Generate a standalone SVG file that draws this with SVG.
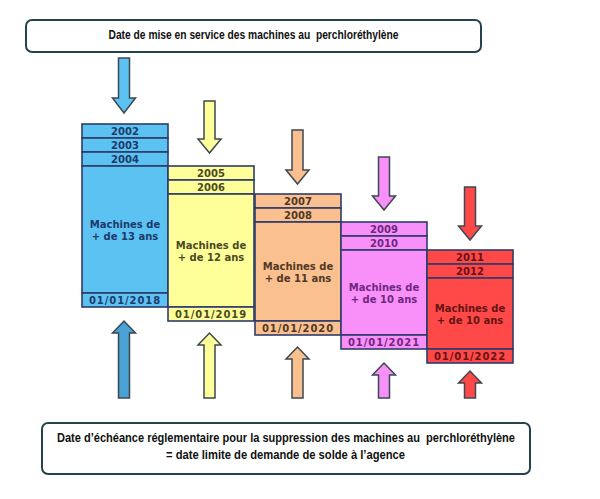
<svg xmlns="http://www.w3.org/2000/svg" width="600" height="499" viewBox="0 0 600 499">
<style>
.box{fill:#fff;stroke:#24434f;stroke-width:2}
.bt{font-family:"Liberation Sans",Arial,sans-serif;font-weight:bold;font-size:12.5px;fill:#111;text-anchor:middle;white-space:pre}
.cell{stroke:#2e3b6b;stroke-width:1.6}
.ct{font-family:"DejaVu Sans",Verdana,sans-serif;font-weight:bold;font-size:10px;text-anchor:middle}
.dt{letter-spacing:0.9px}
.arr{stroke:#3d4852;stroke-width:1.5;stroke-linejoin:miter}
.blue{fill:#5cc2f2}.yellow{fill:#ffff99}.orange{fill:#fac08f}.pink{fill:#f98ff9}.red{fill:#ff4848}
.tb{fill:#1c3a6a}.ty{fill:#4a4a24}.to{fill:#4f3826}.tp{fill:#6e2880}.tr{fill:#661414}
</style>
<rect width="600" height="499" fill="#fff"/>
<g id="top-box">
<rect class="box" x="26" y="20" width="455" height="32" rx="6"/>
<text class="bt" x="253.5" y="38.5" textLength="290" lengthAdjust="spacingAndGlyphs">Date de mise en service des machines au  perchloréthylène</text>
</g>
<g id="bottom-box">
<rect class="box" x="42" y="423" width="488" height="51" rx="6"/>
<text class="bt" x="286" y="442" textLength="458" lengthAdjust="spacingAndGlyphs">Date d’échéance réglementaire pour la suppression des machines au  perchloréthylène</text>
<text class="bt" x="285.5" y="459" textLength="239" lengthAdjust="spacingAndGlyphs">= date limite de demande de solde à l’agence</text>
</g>
<g id="col-2018">
<rect class="cell blue" x="82" y="124" width="86" height="14"/>
<rect class="cell blue" x="82" y="138" width="86" height="14"/>
<rect class="cell blue" x="82" y="152" width="86" height="14"/>
<rect class="cell blue" x="82" y="166" width="86" height="127"/>
<rect class="cell blue" x="82" y="293" width="86" height="14"/>
<text class="ct tb" x="125" y="135">2002</text>
<text class="ct tb" x="125" y="149">2003</text>
<text class="ct tb" x="125" y="163">2004</text>
<text class="ct tb" x="125" y="227.5">Machines de</text>
<text class="ct tb" x="125" y="239.5">+ de 13 ans</text>
<text class="ct tb dt" x="125" y="304">01/01/2018</text>
</g>
<g id="col-2019">
<rect class="cell yellow" x="168" y="166" width="86" height="14"/>
<rect class="cell yellow" x="168" y="180" width="86" height="14"/>
<rect class="cell yellow" x="168" y="194" width="86" height="113"/>
<rect class="cell yellow" x="168" y="307" width="86" height="14"/>
<text class="ct ty" x="211" y="177">2005</text>
<text class="ct ty" x="211" y="191">2006</text>
<text class="ct ty" x="211" y="248.5">Machines de</text>
<text class="ct ty" x="211" y="260.5">+ de 12 ans</text>
<text class="ct ty dt" x="211" y="318">01/01/2019</text>
</g>
<g id="col-2020">
<rect class="cell orange" x="255" y="194" width="86" height="14"/>
<rect class="cell orange" x="255" y="208" width="86" height="14"/>
<rect class="cell orange" x="255" y="222" width="86" height="99"/>
<rect class="cell orange" x="255" y="321" width="86" height="14"/>
<text class="ct to" x="298" y="205">2007</text>
<text class="ct to" x="298" y="219">2008</text>
<text class="ct to" x="298" y="269.5">Machines de</text>
<text class="ct to" x="298" y="281.5">+ de 11 ans</text>
<text class="ct to dt" x="298" y="332">01/01/2020</text>
</g>
<g id="col-2021">
<rect class="cell pink" x="341" y="222" width="86" height="14"/>
<rect class="cell pink" x="341" y="236" width="86" height="14"/>
<rect class="cell pink" x="341" y="250" width="86" height="85"/>
<rect class="cell pink" x="341" y="335" width="86" height="14"/>
<text class="ct tp" x="384" y="233">2009</text>
<text class="ct tp" x="384" y="247">2010</text>
<text class="ct tp" x="384" y="290.5">Machines de</text>
<text class="ct tp" x="384" y="302.5">+ de 10 ans</text>
<text class="ct tp dt" x="384" y="346">01/01/2021</text>
</g>
<g id="col-2022">
<rect class="cell red" x="427" y="250" width="86" height="14"/>
<rect class="cell red" x="427" y="264" width="86" height="14"/>
<rect class="cell red" x="427" y="278" width="86" height="71"/>
<rect class="cell red" x="427" y="349" width="86" height="14"/>
<text class="ct tr" x="470" y="261">2011</text>
<text class="ct tr" x="470" y="275">2012</text>
<text class="ct tr" x="470" y="311.5">Machines de</text>
<text class="ct tr" x="470" y="323.5">+ de 10 ans</text>
<text class="ct tr dt" x="470" y="360">01/01/2022</text>
</g>
<g id="connectors">
<path class="arr blue" d="M118.5,58 H129.5 V98 H135.5 L124,113 L112.5,98 H118.5 Z"/>
<path class="arr yellow" d="M204,101 H215 V139 H221 L209.5,153 L198,139 H204 Z"/>
<path class="arr orange" d="M292,130 H303 V170 H309 L297.5,184 L286,170 H292 Z"/>
<path class="arr pink" d="M378.5,157 H389.5 V196 H395.5 L384,210 L372.5,196 H378.5 Z"/>
<path class="arr red" d="M464.5,187 H475.5 V226 H481.5 L470,240 L458.5,226 H464.5 Z"/>
<path class="arr" fill="#4aa2d4" d="M118.5,398 V333 H112.5 L124,321 L135.5,333 H129.5 V398 Z"/>
<path class="arr yellow" d="M204,398 V345 H198 L209.5,333 L221,345 H215 V398 Z"/>
<path class="arr orange" d="M292,398 V359 H286 L297.5,347 L309,359 H303 V398 Z"/>
<path class="arr pink" d="M378.5,398 V375 H372.5 L384,363 L395.5,375 H389.5 V398 Z"/>
<path class="arr red" d="M464.5,398 V383 H458.5 L470,371 L481.5,383 H475.5 V398 Z"/>
</g>
</svg>
